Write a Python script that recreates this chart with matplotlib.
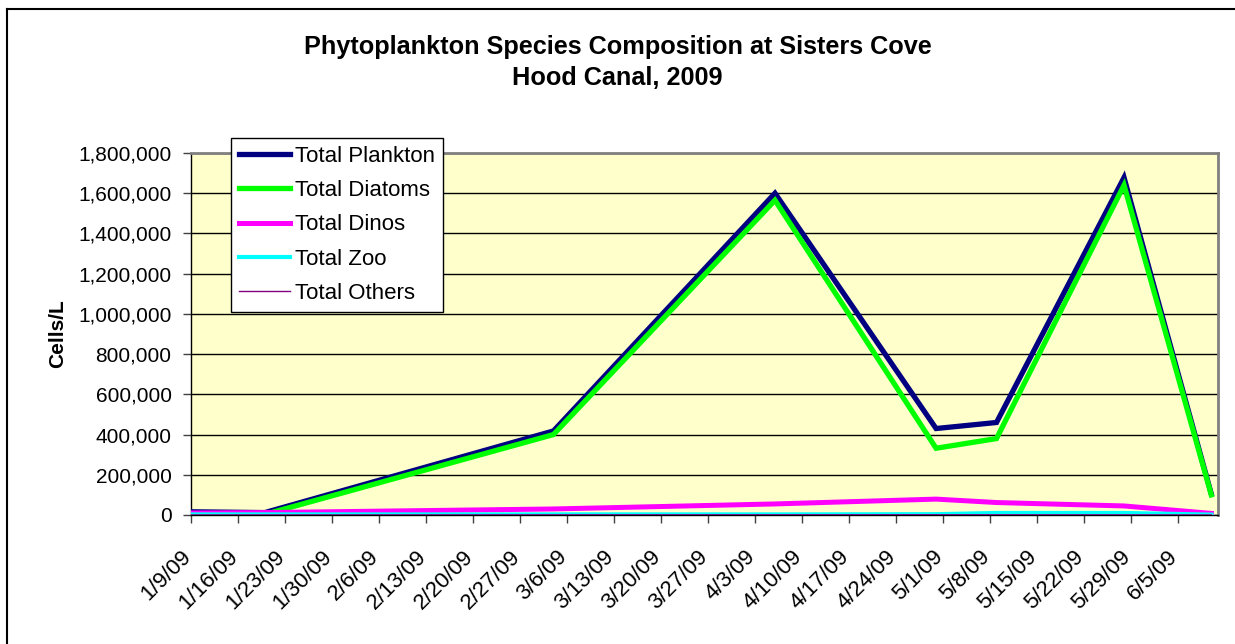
import matplotlib.pyplot as plt
import matplotlib.dates as mdates
import matplotlib.transforms as mtrans
from matplotlib.lines import Line2D
from matplotlib.ticker import FuncFormatter
import datetime as dt

plt.rcParams['font.family'] = ['Liberation Sans', 'DejaVu Sans']

# sampling dates and values (cells/L)
dates = ['2009-01-09', '2009-01-20', '2009-03-04', '2009-04-06',
         '2009-04-30', '2009-05-09', '2009-05-28', '2009-06-10']
plankton = [16000, 12000, 418000, 1600000, 430000, 460000, 1678000, 105000]
diatoms = [3000, 3000, 400000, 1565000, 332000, 380000, 1640000, 100000]
dinos = [10000, 12000, 30000, 55000, 79000, 62000, 45000, 8000]
zoo = [3000, 3000, 3000, 3000, 4000, 10000, 10000, 2000]
others = [500, 500, 800, 1000, 1200, 1000, 800, 300]

series_names = ['Total Plankton', 'Total Diatoms', 'Total Dinos', 'Total Zoo', 'Total Others']
series_vals = [plankton, diatoms, dinos, zoo, others]
colors = ['#000080', '#00FF00', '#FF00FF', '#00FFFF', '#800080']
widths = [3.8, 3.8, 3.6, 3.0, 1.0]

tick_labels = ['1/9/09', '1/16/09', '1/23/09', '1/30/09', '2/6/09', '2/13/09', '2/20/09',
               '2/27/09', '3/6/09', '3/13/09', '3/20/09', '3/27/09', '4/3/09', '4/10/09',
               '4/17/09', '4/24/09', '5/1/09', '5/8/09', '5/15/09', '5/22/09', '5/29/09', '6/5/09']

x = [dt.datetime.strptime(d, '%Y-%m-%d') for d in dates]
xt = [dt.datetime.strptime(t, '%m/%d/%y') for t in tick_labels]

fig = plt.figure(figsize=(12.35, 6.44), dpi=100)
ax = fig.add_axes([191/1235, 1-515/644, (1218-191)/1235, (515-153)/644])
ax.set_facecolor('#FFFFCC')

for name, vals, c, w in zip(series_names, series_vals, colors, widths):
    ax.plot(x, vals, color=c, lw=w, label=name, solid_joinstyle='miter', zorder=3)

ax.set_ylim(0, 1800000)
ax.set_yticks(range(0, 1800001, 200000))
ax.yaxis.set_major_formatter(FuncFormatter(lambda v, p: f'{int(v):,}'))
ax.grid(axis='y', color='black', lw=1, zorder=1)

ax.set_xlim(mdates.date2num(xt[0]), mdates.date2num(dt.datetime(2009, 6, 11)))
ax.set_xticks(xt)
ax.set_xticklabels(tick_labels, rotation=45, ha='right', va='center', rotation_mode='anchor')

ax.tick_params(axis='both', length=6, width=1, color='#404040', direction='out')
ax.tick_params(axis='x', labelsize=16, pad=22)
ax.tick_params(axis='y', labelsize=15, pad=8)

shift = mtrans.ScaledTranslation(-3/100, 0, fig.dpi_scale_trans)
for lbl in ax.get_xticklabels():
    lbl.set_transform(lbl.get_transform() + shift)

for s in ['top', 'right']:
    ax.spines[s].set_color('#808080')
    ax.spines[s].set_linewidth(2)
for s in ['left', 'bottom']:
    ax.spines[s].set_color('black')
    ax.spines[s].set_linewidth(1)

ax.set_ylabel('Cells/L', fontsize=15, fontweight='bold', labelpad=8)

fig.text(0.5, 1-47/644, 'Phytoplankton Species Composition at Sisters Cove',
         ha='center', va='center', fontsize=18.2, fontweight='bold')
fig.text(0.5, 1-78/644, 'Hood Canal, 2009',
         ha='center', va='center', fontsize=18.2, fontweight='bold')

leg = ax.legend(loc='upper left', bbox_to_anchor=(231/1235, 1-138/644),
                bbox_transform=fig.transFigure, fontsize=16, frameon=True,
                fancybox=False, framealpha=1, edgecolor='black',
                handlelength=2.3, handletextpad=0.22, labelspacing=0.6,
                borderpad=0.35, borderaxespad=0)
leg.get_frame().set_linewidth(1)

# chart area border (only top and left are inside the picture)
fig.add_artist(Line2D([7/1235, 7/1235], [0, 1-9/644], color='black', lw=1.5))
fig.add_artist(Line2D([7/1235, 1], [1-9/644, 1-9/644], color='black', lw=1.5))

fig.savefig('out.png', dpi=100)
